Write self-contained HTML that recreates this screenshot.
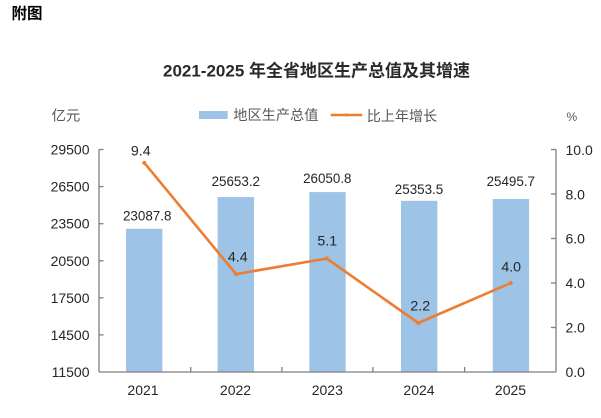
<!DOCTYPE html>
<html>
<head>
<meta charset="utf-8">
<style>
html,body{margin:0;padding:0;background:#fff;}
svg{display:block;}
text{font-family:"Liberation Sans","Noto Sans CJK SC",sans-serif;}
</style>
</head>
<body>
<svg width="601" height="418" viewBox="0 0 601 418" xmlns="http://www.w3.org/2000/svg">
<rect width="601" height="418" fill="#fff"/>
<text x="11.5" y="14" dominant-baseline="central" font-size="15.5" font-weight="bold" fill="#000">附图</text>
<text x="316.5" y="71" dominant-baseline="central" text-anchor="middle" font-size="17" font-weight="bold" fill="#2a2a2a">2021-2025 年全省地区生产总值及其增速</text>

<!-- legend -->
<text x="51.5" y="116.5" dominant-baseline="central" font-size="14.4" fill="#595959">亿元</text>
<rect x="199" y="111" width="28.7" height="8" fill="#9DC3E6"/>
<text x="233.3" y="116" dominant-baseline="central" font-size="14.2" fill="#595959">地区生产总值</text>
<line x1="330.7" y1="115" x2="362.3" y2="115" stroke="#ED7D31" stroke-width="2.5"/>
<circle cx="346.5" cy="115" r="1.6" fill="#ED7D31"/>
<text x="366.7" y="116" dominant-baseline="central" font-size="14.1" fill="#595959">比上年增长</text>
<text x="566.5" y="117" dominant-baseline="central" font-size="12" fill="#595959">%</text>

<!-- bars -->
<g fill="#9DC3E6">
<rect x="126" y="228.8" width="36.4" height="143.2"/>
<rect x="217.6" y="197.05" width="36.4" height="174.95"/>
<rect x="309.3" y="192.1" width="36.4" height="179.9"/>
<rect x="401" y="200.8" width="36.4" height="171.2"/>
<rect x="492.7" y="199" width="36.4" height="173"/>
</g>

<!-- axes -->
<g stroke="#7f7f7f" stroke-width="1.3" fill="none">
<line x1="99" y1="149.5" x2="99" y2="372"/>
<line x1="556" y1="149.5" x2="556" y2="372"/>
<line x1="99" y1="372" x2="556" y2="372"/>
<line x1="99" y1="149.5" x2="103.5" y2="149.5"/>
<line x1="99" y1="186.6" x2="103.5" y2="186.6"/>
<line x1="99" y1="223.7" x2="103.5" y2="223.7"/>
<line x1="99" y1="260.8" x2="103.5" y2="260.8"/>
<line x1="99" y1="297.8" x2="103.5" y2="297.8"/>
<line x1="99" y1="334.9" x2="103.5" y2="334.9"/>
<line x1="551" y1="149.5" x2="556" y2="149.5"/>
<line x1="551" y1="194" x2="556" y2="194"/>
<line x1="551" y1="238.5" x2="556" y2="238.5"/>
<line x1="551" y1="283" x2="556" y2="283"/>
<line x1="551" y1="327.5" x2="556" y2="327.5"/>
<line x1="190.7" y1="367" x2="190.7" y2="372"/>
<line x1="281.9" y1="367" x2="281.9" y2="372"/>
<line x1="372.9" y1="367" x2="372.9" y2="372"/>
<line x1="464.6" y1="367" x2="464.6" y2="372"/>
</g>

<!-- left tick labels -->
<g font-size="14" fill="#262626" text-anchor="end" dominant-baseline="central">
<text x="89.5" y="149.5">29500</text>
<text x="89.5" y="186.6">26500</text>
<text x="89.5" y="223.7">23500</text>
<text x="89.5" y="260.8">20500</text>
<text x="89.5" y="297.8">17500</text>
<text x="89.5" y="334.9">14500</text>
<text x="89.5" y="372">11500</text>
</g>
<!-- right tick labels -->
<g font-size="14" fill="#262626" dominant-baseline="central">
<text x="565.5" y="150">10.0</text>
<text x="565.5" y="194.3">8.0</text>
<text x="565.5" y="238.5">6.0</text>
<text x="565.5" y="283">4.0</text>
<text x="565.5" y="327.5">2.0</text>
<text x="565.5" y="372">0.0</text>
</g>
<!-- x labels -->
<g font-size="14" fill="#262626" text-anchor="middle" dominant-baseline="central">
<text x="143" y="390">2021</text>
<text x="235.5" y="390">2022</text>
<text x="327.3" y="390">2023</text>
<text x="419" y="390">2024</text>
<text x="510.5" y="390">2025</text>
</g>

<!-- bar labels -->
<g font-size="13.4" fill="#262626" text-anchor="middle" dominant-baseline="central">
<text x="147.2" y="216">23087.8</text>
<text x="235.8" y="181.7">25653.2</text>
<text x="327.3" y="178.3">26050.8</text>
<text x="419" y="189.3">25353.5</text>
<text x="510.8" y="181.7">25495.7</text>
</g>

<!-- line -->
<polyline points="144.3,162.85 236,274.1 326.7,258.5 418.3,323 510.7,283" fill="none" stroke="#ED7D31" stroke-width="2.6" stroke-linejoin="round"/>
<g fill="#ED7D31">
<circle cx="144.3" cy="162.85" r="2"/>
<circle cx="236" cy="274.1" r="2"/>
<circle cx="326.7" cy="258.5" r="2"/>
<circle cx="418.3" cy="323" r="2"/>
<circle cx="510.7" cy="283" r="2"/>
</g>
<!-- line labels -->
<g font-size="14.2" fill="#262626" text-anchor="middle" dominant-baseline="central">
<text x="140.8" y="151.7">9.4</text>
<text x="237.8" y="257.3">4.4</text>
<text x="327.3" y="241.7">5.1</text>
<text x="420.3" y="306.7">2.2</text>
<text x="511.2" y="267.3">4.0</text>
</g>
</svg>
</body>
</html>
